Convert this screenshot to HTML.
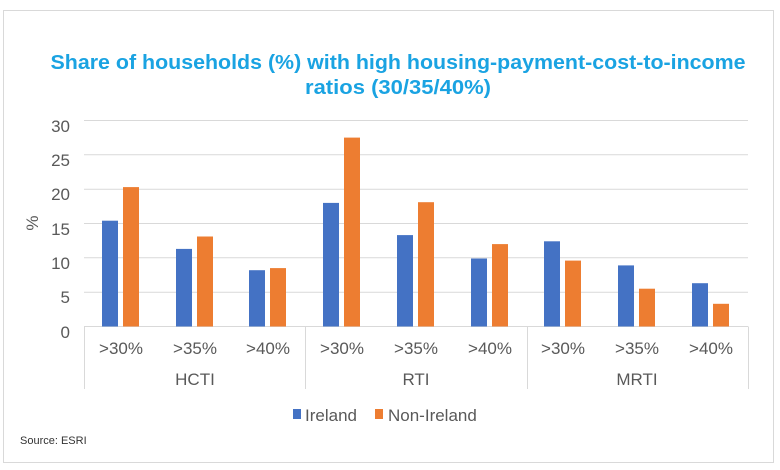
<!DOCTYPE html>
<html><head><meta charset="utf-8"><style>
html,body{margin:0;padding:0;background:#fff;}
svg{display:block;font-family:"Liberation Sans",Arial,sans-serif;}
</style></head><body>
<svg width="780" height="470" viewBox="0 0 780 470" xmlns="http://www.w3.org/2000/svg">
<rect x="3.5" y="10.5" width="770" height="452" fill="#fff" stroke="#d9d9d9" stroke-width="1"/>
<g fill="#1aa3e2" font-weight="bold" font-size="20" text-anchor="middle">
<text x="398" y="69" textLength="695" lengthAdjust="spacingAndGlyphs">Share of households (%) with high housing-payment-cost-to-income</text>
<text x="398" y="94" textLength="186" lengthAdjust="spacingAndGlyphs">ratios (30/35/40%)</text>
</g>
<g stroke="#d9d9d9" stroke-width="1">
<line x1="84" x2="748" y1="120.5" y2="120.5"/>
<line x1="84" x2="748" y1="154.8" y2="154.8"/>
<line x1="84" x2="748" y1="189.2" y2="189.2"/>
<line x1="84" x2="748" y1="223.5" y2="223.5"/>
<line x1="84" x2="748" y1="257.8" y2="257.8"/>
<line x1="84" x2="748" y1="292.2" y2="292.2"/>
<line x1="84" x2="748" y1="326.5" y2="326.5"/>
<line x1="84.5" x2="84.5" y1="326.5" y2="389"/>
<line x1="305.5" x2="305.5" y1="326.5" y2="389"/>
<line x1="527.5" x2="527.5" y1="326.5" y2="389"/>
<line x1="748.5" x2="748.5" y1="326.5" y2="389"/>
</g>
<g fill="#595959" font-size="17" text-anchor="end">
<text x="70" y="132">30</text><text x="70" y="166">25</text><text x="70" y="200">20</text>
<text x="70" y="235">15</text><text x="70" y="269">10</text><text x="70" y="303">5</text><text x="70" y="338">0</text>
</g>
<text x="38" y="223" fill="#595959" font-size="17" text-anchor="middle" transform="rotate(-90 38 223)">%</text>
<g fill="#4472c4">
<rect x="102" y="220.7" width="16" height="105.8"/>
<rect x="176" y="248.9" width="16" height="77.6"/>
<rect x="249" y="270.2" width="16" height="56.3"/>
<rect x="323" y="202.9" width="16" height="123.6"/>
<rect x="397" y="235.1" width="16" height="91.4"/>
<rect x="471" y="258.5" width="16" height="68.0"/>
<rect x="544" y="241.3" width="16" height="85.2"/>
<rect x="618" y="265.4" width="16" height="61.1"/>
<rect x="692" y="283.2" width="16" height="43.3"/>
</g>
<g fill="#ed7d31">
<rect x="123" y="187.1" width="16" height="139.4"/>
<rect x="197" y="236.5" width="16" height="90.0"/>
<rect x="270" y="268.1" width="16" height="58.4"/>
<rect x="344" y="137.6" width="16" height="188.9"/>
<rect x="418" y="202.2" width="16" height="124.3"/>
<rect x="492" y="244.1" width="16" height="82.4"/>
<rect x="565" y="260.6" width="16" height="65.9"/>
<rect x="639" y="288.7" width="16" height="37.8"/>
<rect x="713" y="303.8" width="16" height="22.7"/>
</g>
<g fill="#595959" font-size="17" text-anchor="middle">
<text x="121" y="354">&gt;30%</text><text x="195" y="354">&gt;35%</text><text x="268" y="354">&gt;40%</text>
<text x="342" y="354">&gt;30%</text><text x="416" y="354">&gt;35%</text><text x="490" y="354">&gt;40%</text>
<text x="563" y="354">&gt;30%</text><text x="637" y="354">&gt;35%</text><text x="711" y="354">&gt;40%</text>
<text x="195" y="385">HCTI</text><text x="416" y="385">RTI</text><text x="637" y="385">MRTI</text>
</g>
<rect x="293" y="409" width="8" height="10" fill="#4472c4"/>
<text x="305" y="421" fill="#595959" font-size="17">Ireland</text>
<rect x="375" y="409" width="8" height="10" fill="#ed7d31"/>
<text x="388" y="421" fill="#595959" font-size="17">Non-Ireland</text>
<text x="20" y="444" fill="#333" font-size="11">Source: ESRI</text>
</svg>
</body></html>
